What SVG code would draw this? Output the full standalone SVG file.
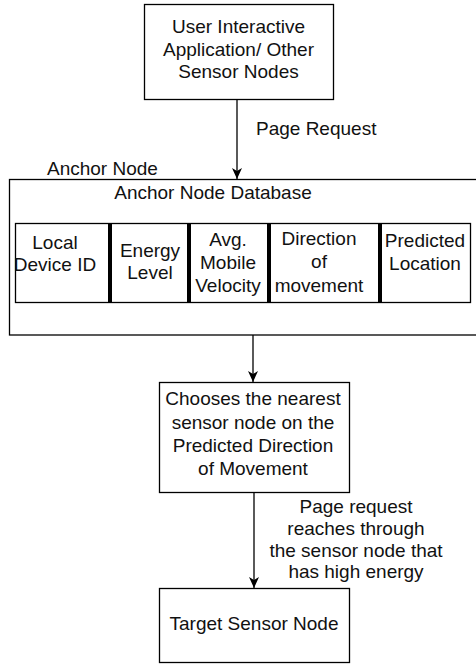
<svg xmlns="http://www.w3.org/2000/svg" width="476" height="666" viewBox="0 0 476 666">
  <style>
    .box { fill: #ffffff; stroke: #000000; stroke-width: 1.3; }
    .bar { stroke: #000000; stroke-width: 4; }
    .edge { fill: none; stroke: #000000; stroke-width: 1.3; }
    text { font-family: "Liberation Sans", Arial, sans-serif; font-size: 19px; fill: #111111; }
    .c { text-anchor: middle; }
  </style>
  <defs>
    <marker id="arrow" markerUnits="userSpaceOnUse" markerWidth="12" markerHeight="12" refX="11" refY="5" orient="auto">
      <path d="M0,0 L11,5 L0,10 L3,5 z" fill="#000000"/>
    </marker>
  </defs>
  <rect width="476" height="666" fill="#ffffff"/>

  <!-- source of page requests -->
  <g id="user-app">
    <rect class="box" x="144.5" y="4.5" width="189" height="95"/>
    <text class="c" x="238.5" y="33">User Interactive</text>
    <text class="c" x="238.5" y="56">Application/ Other</text>
    <text class="c" x="238.5" y="78">Sensor Nodes</text>
  </g>

  <!-- anchor node container with its database table -->
  <g id="anchor-node">
    <text x="47" y="175">Anchor Node</text>
    <rect class="box" x="9.5" y="179.5" width="480" height="155.5"/>
    <text class="c" x="213" y="199">Anchor Node Database</text>
  </g>

  <g id="anchor-db-table">
    <rect class="box" x="15.5" y="223.5" width="455" height="79"/>
    <line class="bar" x1="110" y1="223" x2="110" y2="303"/>
    <line class="bar" x1="189" y1="223" x2="189" y2="303"/>
    <line class="bar" x1="269" y1="223" x2="269" y2="303"/>
    <line class="bar" x1="380" y1="223" x2="380" y2="303"/>
  </g>

  <g id="field-local-id">
    <text class="c" x="55" y="249">Local</text>
    <text class="c" x="55" y="271">Device ID</text>
  </g>
  <g id="field-energy">
    <text class="c" x="150" y="257">Energy</text>
    <text class="c" x="150" y="279">Level</text>
  </g>
  <g id="field-velocity">
    <text class="c" x="228" y="246">Avg.</text>
    <text class="c" x="228" y="269">Mobile</text>
    <text class="c" x="228" y="292">Velocity</text>
  </g>
  <g id="field-direction">
    <text class="c" x="319" y="245">Direction</text>
    <text class="c" x="319" y="268">of</text>
    <text class="c" x="319" y="292">movement</text>
  </g>
  <g id="field-location">
    <text class="c" x="425" y="247">Predicted</text>
    <text class="c" x="425" y="270">Location</text>
  </g>

  <g id="choose-node">
    <rect class="box" x="159.5" y="382.5" width="190" height="110"/>
    <text class="c" x="253" y="405">Chooses the nearest</text>
    <text class="c" x="253" y="429">sensor node on the</text>
    <text class="c" x="253" y="452">Predicted Direction</text>
    <text class="c" x="253" y="475">of Movement</text>
  </g>

  <g id="target-node">
    <rect class="box" x="159.5" y="588.5" width="190" height="74"/>
    <text class="c" x="254" y="630">Target Sensor Node</text>
  </g>

  <!-- connectors -->
  <g id="connectors">
    <line class="edge" x1="237" y1="100" x2="237" y2="179" marker-end="url(#arrow)"/>
    <text x="256" y="135">Page Request</text>
    <line class="edge" x1="253" y1="335" x2="253" y2="382" marker-end="url(#arrow)"/>
    <line class="edge" x1="254" y1="493" x2="254" y2="588" marker-end="url(#arrow)"/>
    <text class="c" x="356" y="513">Page request</text>
    <text class="c" x="356" y="535">reaches through</text>
    <text class="c" x="356" y="557">the sensor node that</text>
    <text class="c" x="356" y="578">has high energy</text>
  </g>
</svg>
